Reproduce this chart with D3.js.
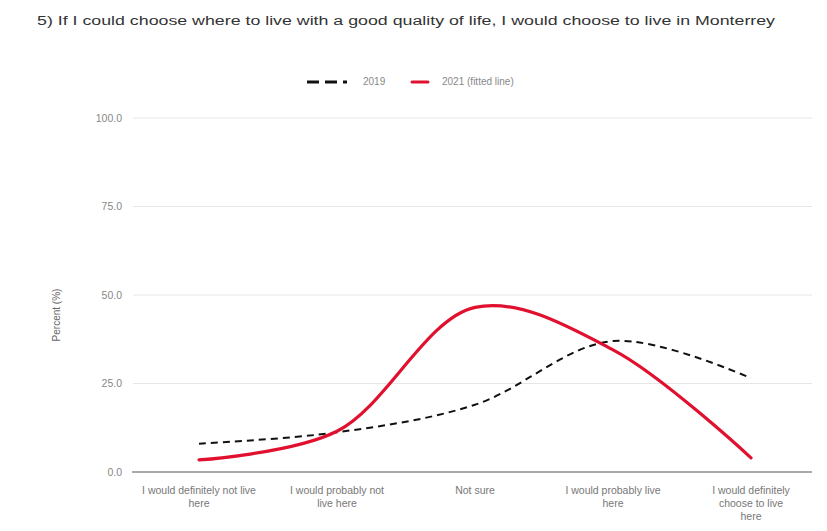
<!DOCTYPE html>
<html><head><meta charset="utf-8">
<script src="https://cdn.jsdelivr.net/npm/d3@7"></script>
<style>body{margin:0;background:#fff;font-family:"Liberation Sans",Arial,sans-serif;}</style>
</head><body><svg id="c" width="827" height="531"></svg>
<script>
const categories = [
  ["I would definitely not live", "here"],
  ["I would probably not", "live here"],
  ["Not sure"],
  ["I would probably live", "here"],
  ["I would definitely", "choose to live", "here"]
];
const values2019 = [8.0, 11.2, 19.0, 37.0, 26.5];
const values2021 = [3.4, 11.5, 46.5, 34.5, 4.0];
const yTicks = [0, 25, 50, 75, 100];
const title = "5) If I could choose where to live with a good quality of life, I would choose to live in Monterrey";
const legendLabels = ["2019", "2021 (fitted line)"];

const svg = d3.select("#c");
const x = d3.scaleBand().domain(d3.range(categories.length)).range([130, 820]);
const y = d3.scaleLinear().domain([0, 100]).range([472, 118]);

svg.append("text").attr("x", 37).attr("y", 25).attr("font-size", 12.5).attr("fill", "#333")
  .attr("textLength", 738).attr("lengthAdjust", "spacingAndGlyphs").text(title);

// gridlines
svg.append("g").selectAll("line").data(yTicks.filter(d => d > 0)).join("line")
  .attr("x1", 133).attr("x2", 812).attr("y1", d => y(d)).attr("y2", d => y(d))
  .attr("stroke", "#e6e6e6").attr("stroke-width", 1);

// y axis labels
const yAxis = d3.axisLeft(y).tickValues(yTicks).tickFormat(d3.format(".1f")).tickSize(0).tickPadding(0);
const ga = svg.append("g").attr("transform", "translate(122,0)").call(yAxis);
ga.select(".domain").remove();
ga.selectAll("text").attr("font-size", 10.5).attr("fill", "#888").attr("font-family", "Liberation Sans, Arial, sans-serif");

// y title
svg.append("text").attr("transform", "translate(60,315) rotate(-90)").attr("text-anchor", "middle")
  .attr("font-size", 10).attr("fill", "#666").text("Percent (%)");

// baseline
svg.append("line").attr("x1", 132).attr("x2", 812).attr("y1", y(0)).attr("y2", y(0))
  .attr("stroke", "#555").attr("stroke-width", 1.2);

// x labels
const gx = svg.append("g");
categories.forEach((lines, i) => {
  const t = gx.append("text").attr("x", x(i) + x.bandwidth() / 2).attr("y", 494)
    .attr("text-anchor", "middle").attr("font-size", 10.5).attr("fill", "#777");
  lines.forEach((l, j) => t.append("tspan").attr("x", x(i) + x.bandwidth() / 2).attr("dy", j ? 13 : 0).text(l));
});

const line = d3.line().x((d, i) => x(i) + x.bandwidth() / 2).y(d => y(d)).curve(d3.curveCatmullRom.alpha(0.5));

svg.append("path").attr("d", line(values2019)).attr("fill", "none").attr("stroke", "#111")
  .attr("stroke-width", 2).attr("stroke-dasharray", "7,5");
svg.append("path").attr("d", line(values2021)).attr("fill", "none").attr("stroke", "#e0102e")
  .attr("stroke-width", 3.2).attr("stroke-linecap", "round");

// legend
const lg = svg.append("g");
lg.append("line").attr("x1", 307).attr("x2", 347).attr("y1", 82).attr("y2", 82)
  .attr("stroke", "#111").attr("stroke-width", 3).attr("stroke-dasharray", "12,6");
lg.append("text").attr("x", 363).attr("y", 85).attr("font-size", 10).attr("fill", "#888").text(legendLabels[0]);
lg.append("line").attr("x1", 412).attr("x2", 428).attr("y1", 82).attr("y2", 82)
  .attr("stroke", "#e0102e").attr("stroke-width", 3).attr("stroke-linecap", "round");
lg.append("text").attr("x", 442).attr("y", 85).attr("font-size", 10).attr("fill", "#888").text(legendLabels[1]);
</script></body></html>
